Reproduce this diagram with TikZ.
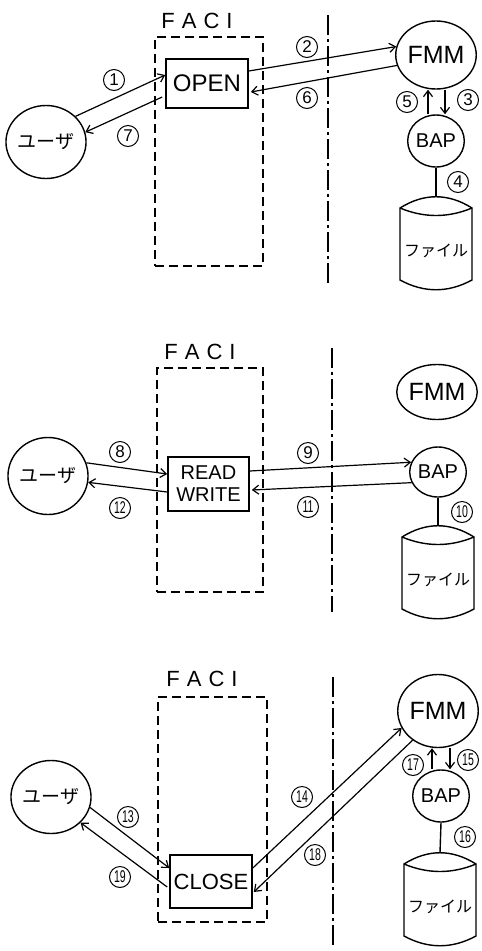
\documentclass[tikz,border=0pt]{standalone}
\usepackage{fontspec}
\usepackage{graphicx}
\setmainfont{Liberation Sans}
\newfontfamily\jp{Noto Sans CJK JP}
\usetikzlibrary{arrows.meta,shapes.geometric,calc}
\tikzset{
  ln/.style={line width=1.4pt},
  arr/.style={line width=1.2pt,-{Straight Barb[length=6pt,width=9pt]}},
  num/.style={circle,draw,line width=1pt,minimum size=21pt,inner sep=0pt,font=\fontsize{17}{17}\selectfont},
  proc/.style={ellipse,draw,line width=1.4pt,inner sep=0pt,font=\fontsize{25}{25}\selectfont},
  bapnode/.style={ellipse,draw,line width=1.4pt,inner sep=0pt,font=\fontsize{20}{20}\selectfont},
  usernode/.style={ellipse,draw,line width=1.4pt,inner sep=0pt,font=\jp\fontsize{19}{19}\selectfont},
  opbox/.style={rectangle,draw,line width=1.6pt,inner sep=0pt},
  facibox/.style={rectangle,draw,line width=1.4pt,dash pattern=on 9pt off 5pt,inner sep=0pt},
  facilabel/.style={inner sep=0pt,font=\fontsize{22}{22}\selectfont},
  sepline/.style={line width=1.4pt,dash pattern=on 20pt off 4pt on 3pt off 4pt},
  filecyl/.pic={
    \draw[line width=1.4pt] (-36,0) .. controls (-12,-15) and (12,-15) .. (36,0) -- (36,72)
      .. controls (12,85) and (-12,85) .. (-36,72) -- cycle;
    \draw[line width=1.4pt] (-36,0) .. controls (-12,10) and (12,10) .. (36,0);
    \coordinate (-top) at (0,-11);
    \node[inner sep=0pt,font=\jp\fontsize{16}{16}\selectfont] (-label) at (0,43) {ファイル};
  }
}
\newcommand\faci{F\hspace{7pt}A\hspace{7pt}C\hspace{7pt}I}
\newcommand\twod[1]{\scalebox{0.62}[1]{#1}}
\begin{document}
\begin{tikzpicture}[x=1pt,y=-1pt]
\fill[white] (0,0) rectangle (482,951);
\useasboundingbox (0,0) rectangle (482,951);

% ---------------- panel 1 : OPEN ----------------
\node[facilabel] (fl1) at (197,21) {\faci};
\node[facibox,minimum width=108pt,minimum height=229pt] (faci1) at (209,151.5) {};
\coordinate (s1a) at (328,15);
\coordinate (s1b) at (328,285);
\draw[sepline] (s1a) -- (s1b);
\node[usernode,minimum width=75pt,minimum height=73pt] (user1) at (46,142) {ユーザ};
\node[opbox,minimum width=82pt,minimum height=49pt,font=\fontsize{24}{24}\selectfont] (open1) at (207,83.5) {OPEN};
\node[proc,minimum width=75pt,minimum height=68pt] (fmm1) at (436,55) {FMM};
\node[bapnode,minimum width=55pt,minimum height=52pt] (bap1) at (436,141) {BAP};
\pic (f1) at (436,208) {filecyl};

\draw[arr] (user1.41) -- ($(open1.west)+(0,-8.5)$);
\draw[arr] ($(open1.west)+(-3,13.5)$) -- (user1.14);
\draw[arr] ($(open1.east)+(0,-12.5)$) -- (fmm1.168);
\draw[arr] (fmm1.195) -- ($(open1.east)+(2,8.5)$);
\draw[arr] ([xshift=-8pt]bap1.north) -- ([xshift=-8pt]bap1.north |- fmm1.south);
\draw[arr] ([xshift=9pt]bap1.north |- fmm1.south) -- ([xshift=9pt]bap1.north);
\draw[ln] (bap1.south) -- (f1-top);

\node[num] (n1) at (114,80) {1};
\node[num] (n7) at (128,136) {7};
\node[num] (n2) at (307,47) {2};
\node[num] (n6) at (307,98) {6};
\node[num] (n5) at (407,102) {5};
\node[num] (n3) at (468,100) {3};
\node[num] (n4) at (458,182) {4};

% ---------------- panel 2 : READ / WRITE ----------------
\node[facilabel] (fl2) at (200,352) {\faci};
\node[facibox,minimum width=106pt,minimum height=224pt] (faci2) at (210,480) {};
\coordinate (s2a) at (332,348);
\coordinate (s2b) at (332,612);
\draw[sepline] (s2a) -- (s2b);
\node[usernode,minimum width=76pt,minimum height=77pt] (user2) at (48,476) {ユーザ};
\node[opbox,minimum width=81pt,minimum height=54pt,align=center,font=\fontsize{20}{22}\selectfont] (rw) at (208.5,484) {READ\\WRITE};
\node[proc,minimum width=73pt,minimum height=55pt] (fmm2) at (437,392) {FMM};
\node[bapnode,minimum width=53pt,minimum height=50pt] (bap2) at (438,472) {BAP};
\pic (f2) at (438,537) {filecyl};

\draw[arr] (user2.19) -- ($(rw.west)+(0,-10)$);
\draw[arr] ($(rw.west)+(0,8)$) -- (user2.-9);
\draw[arr] ($(rw.east)+(0,-13)$) -- (bap2.160);
\draw[arr] (bap2.202) -- ($(rw.east)+(2,6)$);
\draw[ln] (bap2.south) -- (f2-top);

\node[num] (n8) at (120,452) {8};
\node[num] (n12) at (120,508) {\twod{12}};
\node[num] (n9) at (308,453) {9};
\node[num] (n11) at (308,507) {\twod{11}};
\node[num] (n10) at (462,512) {\twod{10}};

% ---------------- panel 3 : CLOSE ----------------
\node[facilabel] (fl3) at (202,679) {\faci};
\node[facibox,minimum width=109pt,minimum height=225pt] (faci3) at (212.5,809.5) {};
\coordinate (s3a) at (333,677);
\coordinate (s3b) at (333,947);
\draw[sepline] (s3a) -- (s3b);
\node[usernode,minimum width=75pt,minimum height=73pt] (user3) at (51,797) {ユーザ};
\node[opbox,minimum width=82pt,minimum height=53pt,font=\fontsize{22}{22}\selectfont] (close) at (211,881.5) {CLOSE};
\node[proc,minimum width=73pt,minimum height=73pt] (fmm3) at (438,711) {FMM};
\node[bapnode,minimum width=54pt,minimum height=52pt] (bap3) at (441,796) {BAP};
\pic (f3) at (440,864) {filecyl};

\draw[arr] (user3.-15) -- ($(close.west)+(0,-13.5)$);
\draw[arr] ($(close.west)+(-2,5.5)$) -- (user3.-41);
\draw[arr] ($(close.east)+(0,-13.5)$) -- (fmm3.205);
\draw[arr] (fmm3.229) -- ($(close.east)+(1,10.5)$);
\draw[arr] ([xshift=-9pt]bap3.north) -- ([xshift=-9pt]bap3.north |- fmm3.south);
\draw[arr] ([xshift=9pt]bap3.north |- fmm3.south) -- ([xshift=9pt]bap3.north);
\draw[ln] (bap3.south) -- (f3-top);

\node[num] (n13) at (128,817) {\twod{13}};
\node[num] (n19) at (120,877) {\twod{19}};
\node[num] (n14) at (302,797) {\twod{14}};
\node[num] (n18) at (315,855) {\twod{18}};
\node[num] (n17) at (413,765) {\twod{17}};
\node[num] (n15) at (468,760) {\twod{15}};
\node[num] (n16) at (465,837) {\twod{16}};
\end{tikzpicture}
\end{document}
